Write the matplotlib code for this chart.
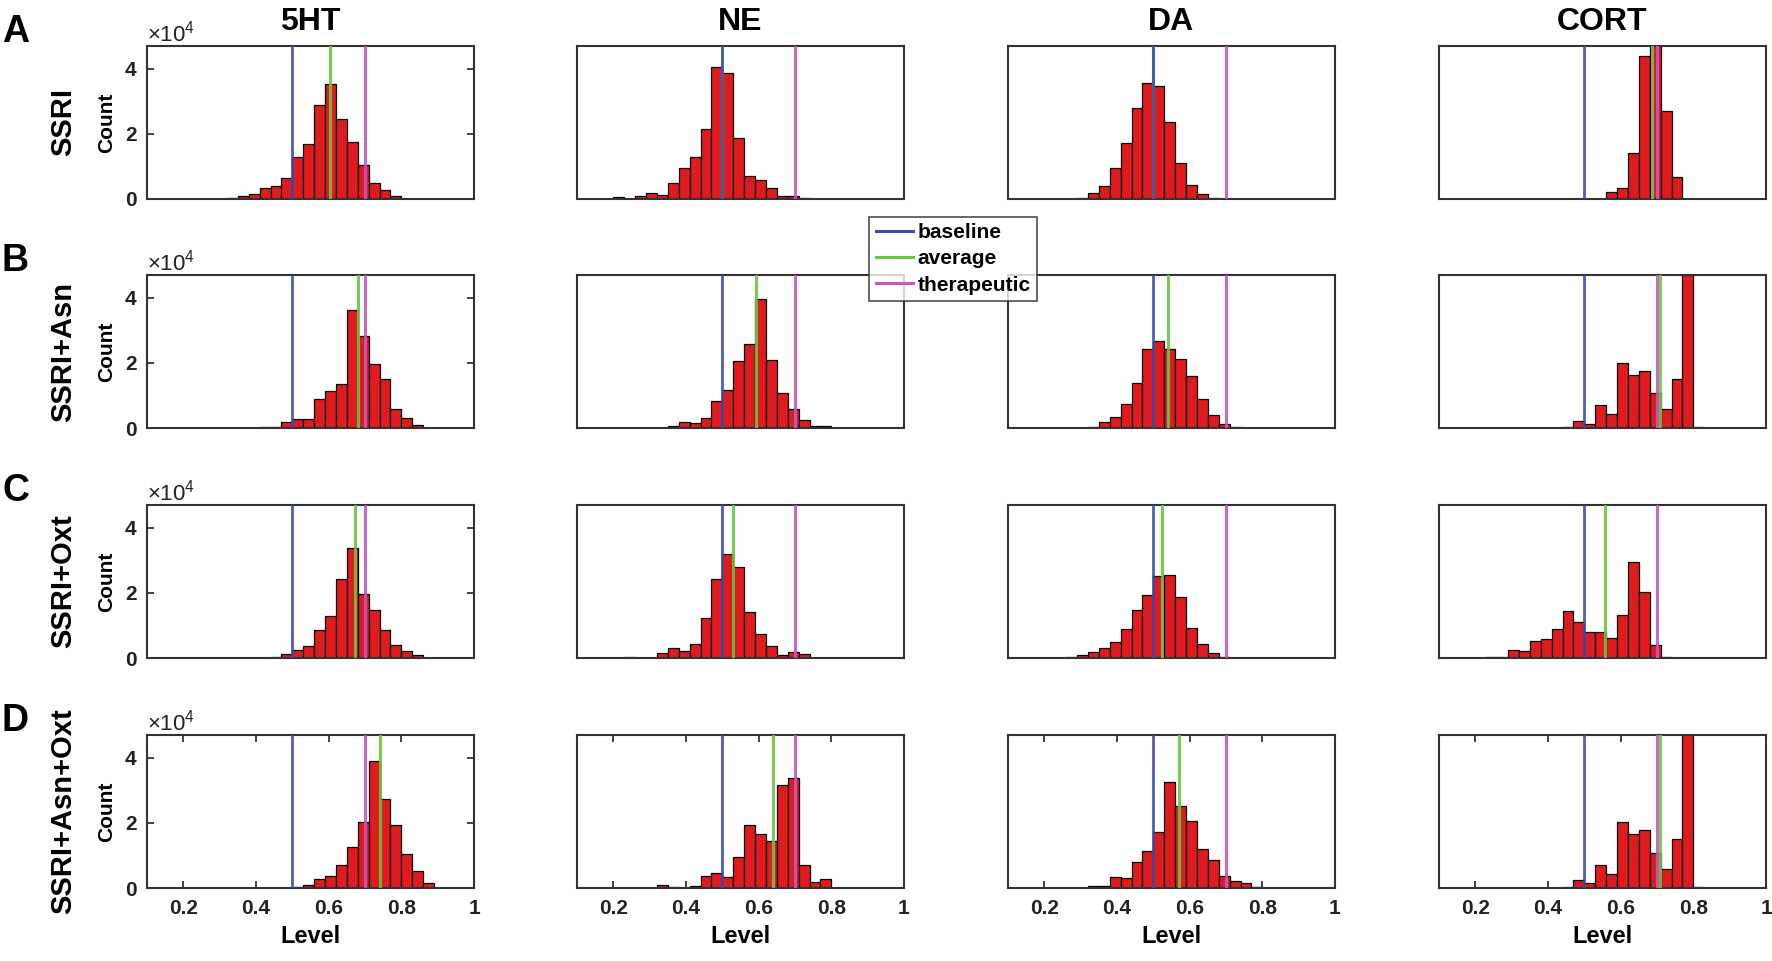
import matplotlib
matplotlib.use('Agg')
import matplotlib.pyplot as plt
from matplotlib.lines import Line2D
import numpy as np

plt.rcParams['font.family'] = ['Liberation Sans', 'DejaVu Sans']
plt.rcParams['font.weight'] = 'bold'
plt.rcParams['mathtext.default'] = 'regular'

columns = ['5HT', 'NE', 'DA', 'CORT']
rows = ['SSRI', 'SSRI+Asn', 'SSRI+Oxt', 'SSRI+Asn+Oxt']
letters = ['A', 'B', 'C', 'D']
legend_labels = ['baseline', 'average', 'therapeutic']
bin_width = 0.03
baseline = 0.5
therapeutic = 0.7
xticks = [0.2, 0.4, 0.6, 0.8, 1.0]
xticklabels = ['0.2', '0.4', '0.6', '0.8', '1']
yticks = [0, 20000, 40000]

# histogram counts (x 10^4) per bin, first bin left edge given by *_start
ssri_5ht_start = 0.32
ssri_5ht = [0.03, 0.08, 0.15, 0.33, 0.40, 0.65, 1.30, 1.70, 2.90, 3.54, 2.47, 1.76, 1.05, 0.50, 0.28, 0.10]
ssri_ne_start = 0.20
ssri_ne = [0.05, 0.01, 0.08, 0.18, 0.13, 0.48, 0.95, 1.30, 2.15, 4.07, 3.87, 1.88, 0.71, 0.57, 0.35, 0.08, 0.08, 0.03]
ssri_da_start = 0.29
ssri_da = [0.02, 0.17, 0.41, 0.94, 1.73, 2.80, 3.56, 3.46, 2.36, 1.12, 0.44, 0.14, 0.04, 0.01]
ssri_cort_start = 0.50
ssri_cort = [0.01, 0.01, 0.20, 0.33, 1.40, 4.40, 4.80, 2.70, 0.68]

asn_5ht_start = 0.41
asn_5ht = [0.02, 0.03, 0.18, 0.29, 0.29, 0.88, 1.14, 1.34, 3.62, 2.82, 1.97, 1.49, 0.57, 0.32, 0.08]
asn_ne_start = 0.35
asn_ne = [0.06, 0.17, 0.14, 0.32, 0.82, 1.18, 2.05, 2.59, 3.95, 2.08, 1.09, 0.57, 0.25, 0.06, 0.05]
asn_da_start = 0.32
asn_da = [0.02, 0.17, 0.34, 0.73, 1.37, 2.43, 2.67, 2.43, 2.12, 1.59, 0.88, 0.40, 0.13, 0.04]
asn_cort_start = 0.41
asn_cort = [0.01, 0.02, 0.23, 0.12, 0.70, 0.42, 1.99, 1.63, 1.75, 1.07, 0.57, 1.50, 6.00, 0.03]

oxt_5ht_start = 0.44
oxt_5ht = [0.03, 0.12, 0.26, 0.36, 0.86, 1.29, 2.43, 3.37, 1.96, 1.47, 0.86, 0.39, 0.23, 0.09]
oxt_ne_start = 0.23
oxt_ne = [0.03, 0.00, 0.00, 0.16, 0.31, 0.23, 0.42, 1.23, 2.43, 3.18, 2.79, 1.42, 0.74, 0.36, 0.10, 0.18, 0.12]
oxt_da_start = 0.26
oxt_da = [0.03, 0.10, 0.17, 0.32, 0.49, 0.88, 1.48, 1.92, 2.52, 2.55, 1.88, 0.93, 0.42, 0.14, 0.03]
oxt_cort_start = 0.23
oxt_cort = [0.02, 0.03, 0.26, 0.20, 0.52, 0.57, 0.88, 1.45, 1.11, 0.79, 0.79, 0.61, 1.31, 2.94, 2.04, 0.39, 0.04]

all_5ht_start = 0.50
all_5ht = [0.04, 0.10, 0.28, 0.36, 0.72, 1.25, 2.02, 3.90, 2.73, 1.93, 1.05, 0.52, 0.15]
all_ne_start = 0.32
all_ne = [0.10, 0.04, 0.00, 0.05, 0.37, 0.46, 0.34, 0.94, 1.95, 1.66, 1.45, 3.16, 3.37, 0.72, 0.18, 0.27]
all_da_start = 0.32
all_da = [0.06, 0.06, 0.34, 0.32, 0.80, 1.13, 1.71, 3.27, 2.53, 2.07, 1.20, 0.85, 0.37, 0.23, 0.15, 0.04]
all_cort_start = 0.41
all_cort = [0.01, 0.02, 0.24, 0.15, 0.72, 0.44, 2.02, 1.65, 1.78, 1.08, 0.57, 1.52, 6.00, 0.04]

# average levels per row
avg_5ht = [0.605, 0.682, 0.672, 0.741]
avg_ne = [0.499, 0.593, 0.529, 0.639]
avg_da = [0.499, 0.540, 0.523, 0.570]
avg_cort = [0.686, 0.707, 0.557, 0.707]

counts = [[ssri_5ht, ssri_ne, ssri_da, ssri_cort],
          [asn_5ht, asn_ne, asn_da, asn_cort],
          [oxt_5ht, oxt_ne, oxt_da, oxt_cort],
          [all_5ht, all_ne, all_da, all_cort]]
starts = [[ssri_5ht_start, ssri_ne_start, ssri_da_start, ssri_cort_start],
          [asn_5ht_start, asn_ne_start, asn_da_start, asn_cort_start],
          [oxt_5ht_start, oxt_ne_start, oxt_da_start, oxt_cort_start],
          [all_5ht_start, all_ne_start, all_da_start, all_cort_start]]
averages = [avg_5ht, avg_ne, avg_da, avg_cort]

W, H = 1772, 961
fig = plt.figure(figsize=(W / 100, H / 100), dpi=100)
fig.patch.set_facecolor('white')

c_base = '#3a4db0'
c_avg = '#6cc644'
c_ther = '#c457c4'
c_bar = '#e01b1e'

col_left = [147, 577, 1008, 1439]
row_top = [46, 275, 505, 735]
ax_w, ax_h = 327, 153

for r in range(4):
    for c in range(4):
        ax = fig.add_axes([col_left[c] / W, 1 - (row_top[r] + ax_h) / H, ax_w / W, ax_h / H])
        vals = np.array(counts[r][c]) * 1e4
        edges = starts[r][c] + bin_width * np.arange(len(vals))
        ax.bar(edges, vals, width=bin_width, align='edge', color=c_bar,
               edgecolor='black', linewidth=0.9, zorder=2)
        ax.axvline(averages[c][r], color=c_avg, lw=2.2, zorder=3, alpha=0.9)
        ax.axvline(baseline, color=c_base, lw=2.0, zorder=4, alpha=0.9)
        ax.axvline(therapeutic, color=c_ther, lw=2.2, zorder=5, alpha=0.9)
        ax.set_xlim(0.1, 1.0)
        ax.set_ylim(0, 47000)
        if c == 0:
            ax.set_yticks(yticks)
            ax.ticklabel_format(axis='y', style='sci', scilimits=(4, 4), useMathText=True)
            ax.yaxis.get_offset_text().set_fontsize(16)
            ax.yaxis.get_offset_text().set_fontweight('normal')
            ax.tick_params(axis='y', direction='in', left=True, right=True, length=5,
                           width=1.2, labelsize=15, pad=7, colors='#222222')
        else:
            ax.set_yticks([])
        if r == 3:
            ax.set_xticks(xticks)
            ax.set_xticklabels(xticklabels)
            ax.tick_params(axis='x', direction='in', bottom=True, top=True, length=5,
                           width=1.2, labelsize=15, pad=8, colors='#222222')
            ax.set_xlabel('Level', fontsize=17, fontweight='bold', labelpad=5)
        else:
            ax.set_xticks([])
        for s in ax.spines.values():
            s.set_color('#333333')
            s.set_linewidth(1.5)
        if c == 0:
            fig.text(107 / W, 1 - (row_top[r] + ax_h / 2) / H, 'Count', rotation=90,
                     ha='center', va='center', fontsize=15, fontweight='bold')
            fig.text(63 / W, 1 - (row_top[r] + ax_h / 2) / H, rows[r], rotation=90,
                     ha='center', va='center', fontsize=21, fontweight='bold')
            fig.text(2 / W, 1 - (row_top[r] - 14) / H, letters[r], ha='left',
                     va='center', fontsize=27, fontweight='bold')
        if r == 0:
            fig.text((col_left[c] + ax_w / 2) / W, 1 - 22 / H, columns[c], ha='center',
                     va='center', fontsize=23, fontweight='bold')

handles = [Line2D([0], [0], color=c_base, lw=2.2),
           Line2D([0], [0], color=c_avg, lw=2.2),
           Line2D([0], [0], color=c_ther, lw=2.2)]
leg = fig.legend(handles, legend_labels, loc='center', bbox_to_anchor=(953 / W, 1 - 259 / H),
                 fontsize=15, frameon=True, fancybox=False, edgecolor='#333333',
                 handlelength=1.8, handletextpad=0.2, borderpad=0.3, labelspacing=0.35,
                 borderaxespad=0)
leg.get_frame().set_linewidth(1.3)
for t in leg.get_texts():
    t.set_fontweight('bold')

fig.savefig('out.png', dpi=100, facecolor='white')
